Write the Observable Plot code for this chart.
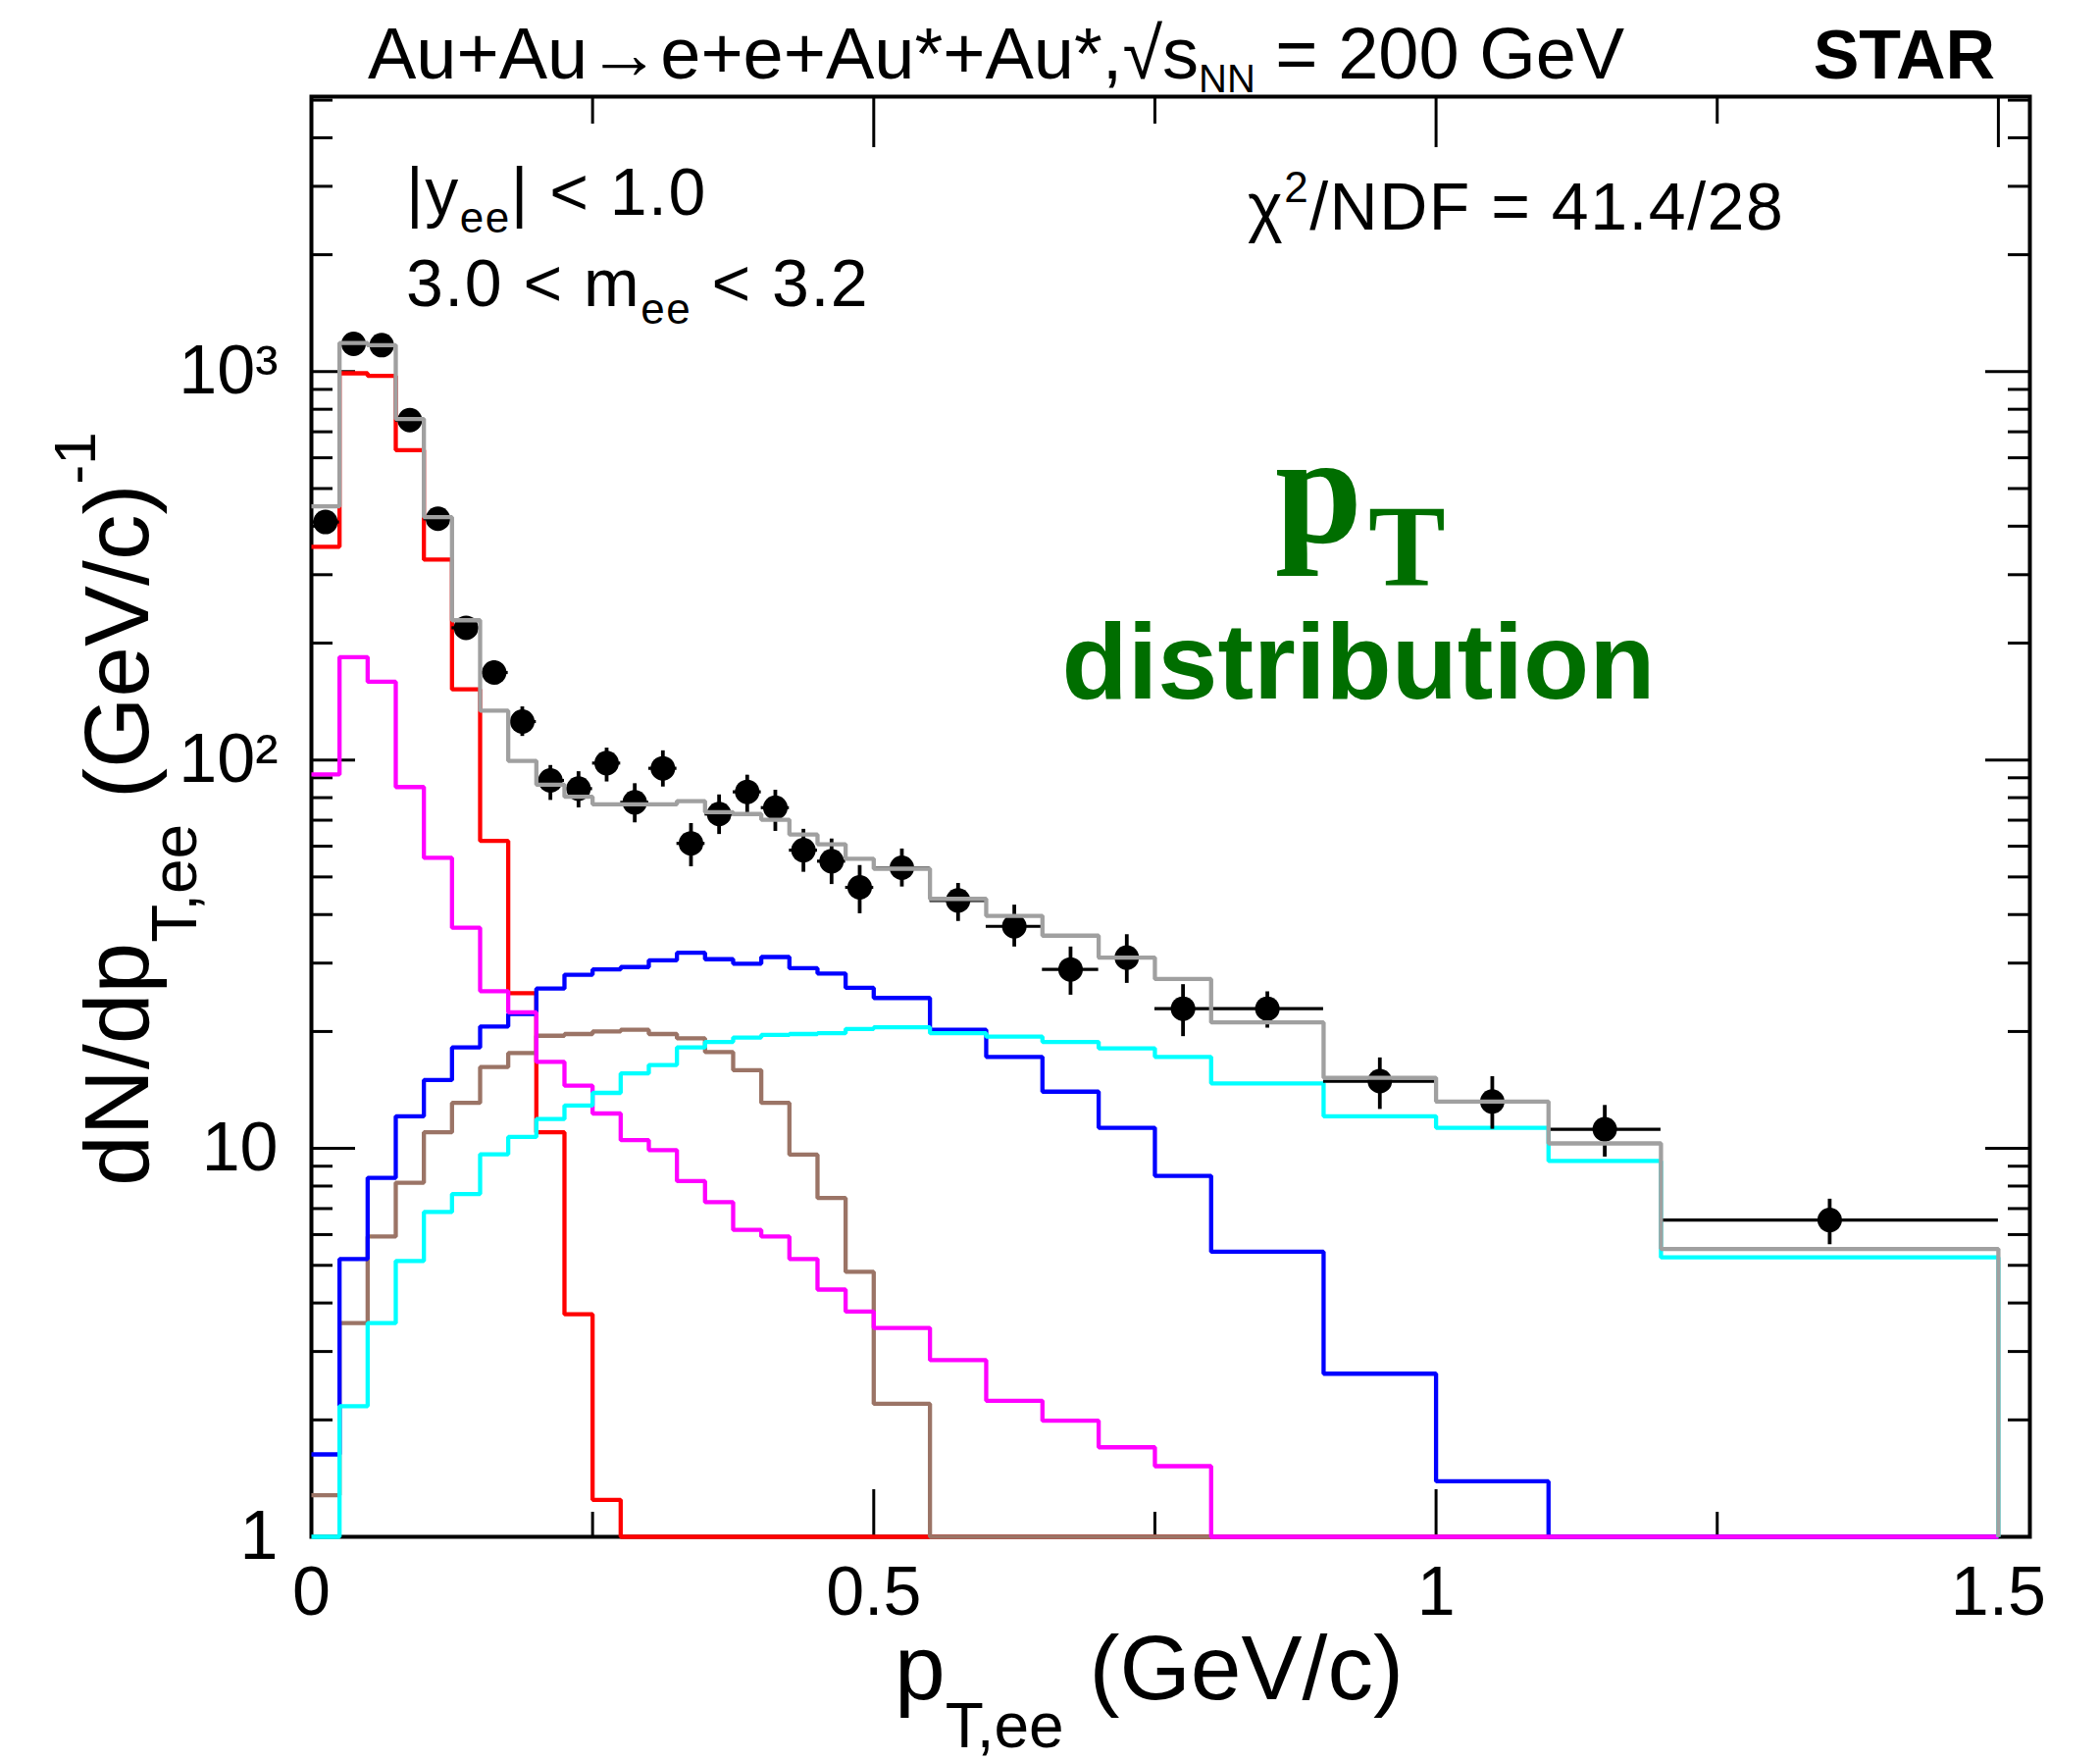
<!DOCTYPE html>
<html>
<head>
<meta charset="utf-8">
<script src="https://cdn.jsdelivr.net/npm/d3@7"></script>
<script src="https://cdn.jsdelivr.net/npm/@observablehq/plot@0.6"></script>
<style>
  html, body { margin: 0; padding: 0; background: #ffffff; }
  svg { display: block; }
</style>
</head>
<body>
<div id="chart"></div>
<script>
// ---------------- data ----------------
// bin edges of p_T,ee (GeV/c)
const binEdges = [0, 0.025, 0.05, 0.075, 0.1, 0.125, 0.15, 0.175, 0.2, 0.225, 0.25, 0.275, 0.3, 0.325, 0.35, 0.375, 0.4, 0.425, 0.45, 0.475, 0.5, 0.55, 0.6, 0.65, 0.7, 0.75, 0.8, 0.9, 1.0, 1.1, 1.2, 1.5];

// model components (per bin, dN/dpT)
const redHist     = [354, 990, 975, 628, 328, 152, 61.9, 25.1, 11.0, 3.74, 1.245, 0, 0, 0, 0, 0, 0, 0, 0, 0, 0, 0, 0, 0, 0, 0, 0, 0, 0, 0, 0];
const magentaHist = [91.8, 184, 159, 85.2, 56.0, 37.0, 25.4, 22.4, 16.7, 14.5, 12.3, 10.5, 9.9, 8.24, 7.27, 6.17, 5.93, 5.19, 4.33, 3.80, 3.45, 2.85, 2.24, 1.99, 1.70, 1.52, 0, 0, 0, 0, 0];
const brownHist   = [1.28, 3.55, 5.93, 8.16, 11.0, 13.1, 16.2, 17.6, 19.5, 19.7, 20.0, 20.2, 19.7, 19.2, 17.7, 15.9, 13.1, 9.64, 7.45, 4.81, 2.20, 0, 0, 0, 0, 0, 0, 0, 0, 0, 0];
const blueHist    = [1.63, 5.19, 8.40, 12.1, 15.0, 18.2, 20.6, 22.2, 25.8, 28.0, 28.9, 29.3, 30.5, 31.9, 30.7, 29.9, 31.1, 29.1, 28.2, 25.9, 24.4, 20.2, 17.2, 14.0, 11.3, 8.50, 5.42, 2.63, 1.39, 0, 0];
const cyanHist    = [0, 2.17, 3.55, 5.13, 6.86, 7.63, 9.66, 10.7, 11.9, 12.9, 13.9, 15.6, 16.4, 18.2, 18.8, 19.3, 19.6, 19.7, 19.8, 20.3, 20.5, 19.8, 19.4, 18.8, 18.1, 17.2, 14.7, 12.1, 11.3, 9.28, 5.24];
const totalHist   = [450, 1185, 1170, 755, 422, 229, 134, 99.5, 86.4, 80.4, 76.9, 76.9, 76.9, 78.4, 73.4, 72.6, 70.2, 64.3, 60.7, 55.7, 52.5, 43.9, 39.7, 35.3, 31.0, 27.3, 21.1, 15.2, 13.2, 10.3, 5.51];

// measured points with error-bar ends
const dataValues = [410, 1179, 1170, 750, 418, 219, 168, 125.6, 88.6, 84.4, 98.2, 77.8, 95.2, 61.0, 72.6, 82.8, 75.4, 58.6, 54.9, 47.0, 52.8, 43.5, 37.3, 28.9, 31.0, 22.9, 22.9, 14.9, 13.2, 11.2, 6.54];
const dataLow    = [392, 1140, 1132, 722, 398, 207, 157, 115, 78.7, 75.3, 87.8, 68.9, 85.2, 53.1, 64.3, 72.9, 65.5, 51.4, 47.8, 40.2, 47.1, 38.4, 33.0, 24.8, 26.6, 19.4, 20.4, 12.6, 11.2, 9.5, 5.65];
const dataHigh   = [430, 1220, 1210, 780, 440, 232, 180, 137, 96.8, 93.3, 107.3, 86.9, 105.6, 68.6, 81.3, 91.4, 83.6, 66.3, 62.6, 53.5, 59.0, 48.1, 42.3, 33.0, 35.5, 26.4, 25.3, 17.1, 15.3, 12.9, 7.4];

// axes
const xDomain = [0, 1.528];
const yDomain = [1, 5105];
const xLabelTicks = [0, 0.5, 1, 1.5];
const xLabelText  = ["0", "0.5", "1", "1.5"];
const xMajorTicks = [0.5, 1, 1.5];
const xMinorTicks = [0.25, 0.75, 1.25];
const yLabelTicks = [1, 10, 100, 1000];
const yLabelText  = ["1", "10", "10\u00B2", "10\u00B3"];
const yMajorTicks = [10, 100, 1000];
const yMinorTicks = [2, 3, 4, 5, 6, 7, 8, 9, 20, 30, 40, 50, 60, 70, 80, 90, 200, 300, 400, 500, 600, 700, 800, 900, 2000, 3000, 4000, 5000];

// ---------------- layout ----------------
const W = 2141, H = 1794;
const mL = 317, mR = 72, mT = 98, mB = 228;
const FW = W - mL - mR, FH = H - mT - mB;
const FONT = "'Liberation Sans', Arial, Helvetica, sans-serif";
const SERIF = "'Liberation Serif', 'Times New Roman', serif";
const LW = 4.3;

function stepPoints(vals) {
  const pts = vals.map((v, i) => ({x: binEdges[i], v}));
  const last = binEdges[binEdges.length - 1];
  pts.push({x: last, v: vals[vals.length - 1]});
  pts.push({x: last, v: 0});
  return pts;
}
const floorY = d => Math.max(d.v, 1);

const points = dataValues.map((v, i) => ({
  lo: binEdges[i], hi: binEdges[i + 1], c: (binEdges[i] + binEdges[i + 1]) / 2,
  v, elo: dataLow[i], ehi: dataHigh[i]
}));

const histLine = (vals, color) => Plot.line(stepPoints(vals), {
  x: "x", y: floorY, curve: "step-after", stroke: color, strokeWidth: LW,
  strokeLinejoin: "miter", strokeLinecap: "butt"
});

const chart = Plot.plot({
  width: W, height: H,
  marginLeft: mL, marginRight: mR, marginTop: mT, marginBottom: mB,
  style: {fontFamily: FONT, fontSize: "70px", background: "white", color: "black", overflow: "visible"},
  x: {domain: xDomain, ticks: xLabelTicks, tickFormat: d => xLabelText[xLabelTicks.indexOf(d)], tickSize: 0, tickPadding: 30, label: null},
  y: {type: "log", domain: yDomain, ticks: yLabelTicks, tickFormat: d => yLabelText[yLabelTicks.indexOf(d)], tickSize: 0, tickPadding: 34, label: null},
  marks: [
    Plot.frame({stroke: "black", strokeWidth: 4}),
    // bottom ticks
    Plot.tickX(xMajorTicks, {x: d => d, insetTop: FH - 48, stroke: "black", strokeWidth: 3}),
    Plot.tickX(xMinorTicks, {x: d => d, insetTop: FH - 25, stroke: "black", strokeWidth: 3}),
    // top ticks
    Plot.tickX(xMajorTicks, {x: d => d, insetBottom: FH - 52, stroke: "black", strokeWidth: 3}),
    Plot.tickX(xMinorTicks, {x: d => d, insetBottom: FH - 28, stroke: "black", strokeWidth: 3}),
    // left ticks
    Plot.tickY(yMajorTicks, {y: d => d, insetRight: FW - 45, stroke: "black", strokeWidth: 3}),
    Plot.tickY(yMinorTicks, {y: d => d, insetRight: FW - 22, stroke: "black", strokeWidth: 3}),
    // right ticks
    Plot.tickY(yMajorTicks, {y: d => d, insetLeft: FW - 45, stroke: "black", strokeWidth: 3}),
    Plot.tickY(yMinorTicks, {y: d => d, insetLeft: FW - 22, stroke: "black", strokeWidth: 3}),
    // model components
    histLine(redHist, "#ff0000"),
    histLine(brownHist, "#9b7466"),
    histLine(blueHist, "#0000ff"),
    histLine(magentaHist, "#ff00ff"),
    histLine(cyanHist, "#00ffff"),
    // data
    Plot.ruleY(points, {y: "v", x1: "lo", x2: "hi", stroke: "black", strokeWidth: 3.2}),
    Plot.ruleX(points, {x: "c", y1: "elo", y2: "ehi", stroke: "black", strokeWidth: 3.8}),
    Plot.dot(points, {x: "c", y: "v", r: 12.5, fill: "black", stroke: "none"}),
    // total model
    histLine(totalHist, "#a0a0a0")
  ]
});

document.getElementById("chart").appendChild(chart);
const svg = d3.select(chart);

function addText(x, y, parts, opts = {}) {
  const t = svg.append("text")
    .attr("x", x).attr("y", y)
    .attr("font-family", opts.family || FONT)
    .attr("font-size", opts.size)
    .attr("font-weight", opts.weight || "normal")
    .attr("fill", opts.fill || "black")
    .attr("text-anchor", opts.anchor || "start");
  if (opts.transform) t.attr("transform", opts.transform);
  if (opts.ls) t.attr("letter-spacing", opts.ls);
  let shift = 0;
  for (const p of parts) {
    const s = t.append("tspan").text(p.t);
    const target = p.shift || 0;
    if (target !== shift) { s.attr("dy", target - shift); shift = target; }
    if (p.size) s.attr("font-size", p.size);
    if (p.dx) s.attr("dx", p.dx);
    if (p.family) s.attr("font-family", p.family);
  }
  return t;
}

// title line above the frame
addText(375, 80, [
  {t: "Au+Au\u2192e+e+Au*+Au*,"},
  {t: "\u221As"},
  {t: "NN", size: 40, shift: 14},
  {t: " = 200 GeV", shift: 0}
], {size: 74});
addText(2034, 80, [{t: "STAR"}], {size: 70, weight: "bold", anchor: "end"});

// annotations inside the frame
addText(414, 219, [
  {t: "|y"}, {t: "ee", size: 44, shift: 18}, {t: "| < 1.0", shift: 0}
], {size: 68, ls: 1.5});
addText(414, 312, [
  {t: "3.0 < m"}, {t: "ee", size: 44, shift: 18}, {t: " < 3.2", shift: 0}
], {size: 68, ls: 1.5});
addText(1272, 234, [
  {t: "\u03C7"}, {t: "2", size: 44, shift: -28}, {t: "/NDF = 41.4/28", shift: 0}
], {size: 68, ls: 1.5});

// green label
addText(1300, 553, [
  {t: "p"}, {t: "T", size: 118, shift: 44, dx: 6}
], {size: 160, weight: "bold", fill: "#006e00", family: SERIF});
addText(1385, 712, [{t: "distribution"}], {size: 110, weight: "bold", fill: "#006e00", anchor: "middle"});

// axis titles
addText(912, 1732, [
  {t: "p"}, {t: "T,ee", size: 64, shift: 49}, {t: " (GeV/c)", shift: 0}
], {size: 93});
addText(0, 0, [
  {t: "dN/dp"}, {t: "T,ee", size: 64, shift: 49}, {t: " (GeV/c)", shift: 0}, {t: "-1", size: 60, shift: -54}
], {size: 93, transform: "translate(151,1209) rotate(-90)"});
</script>
</body>
</html>
